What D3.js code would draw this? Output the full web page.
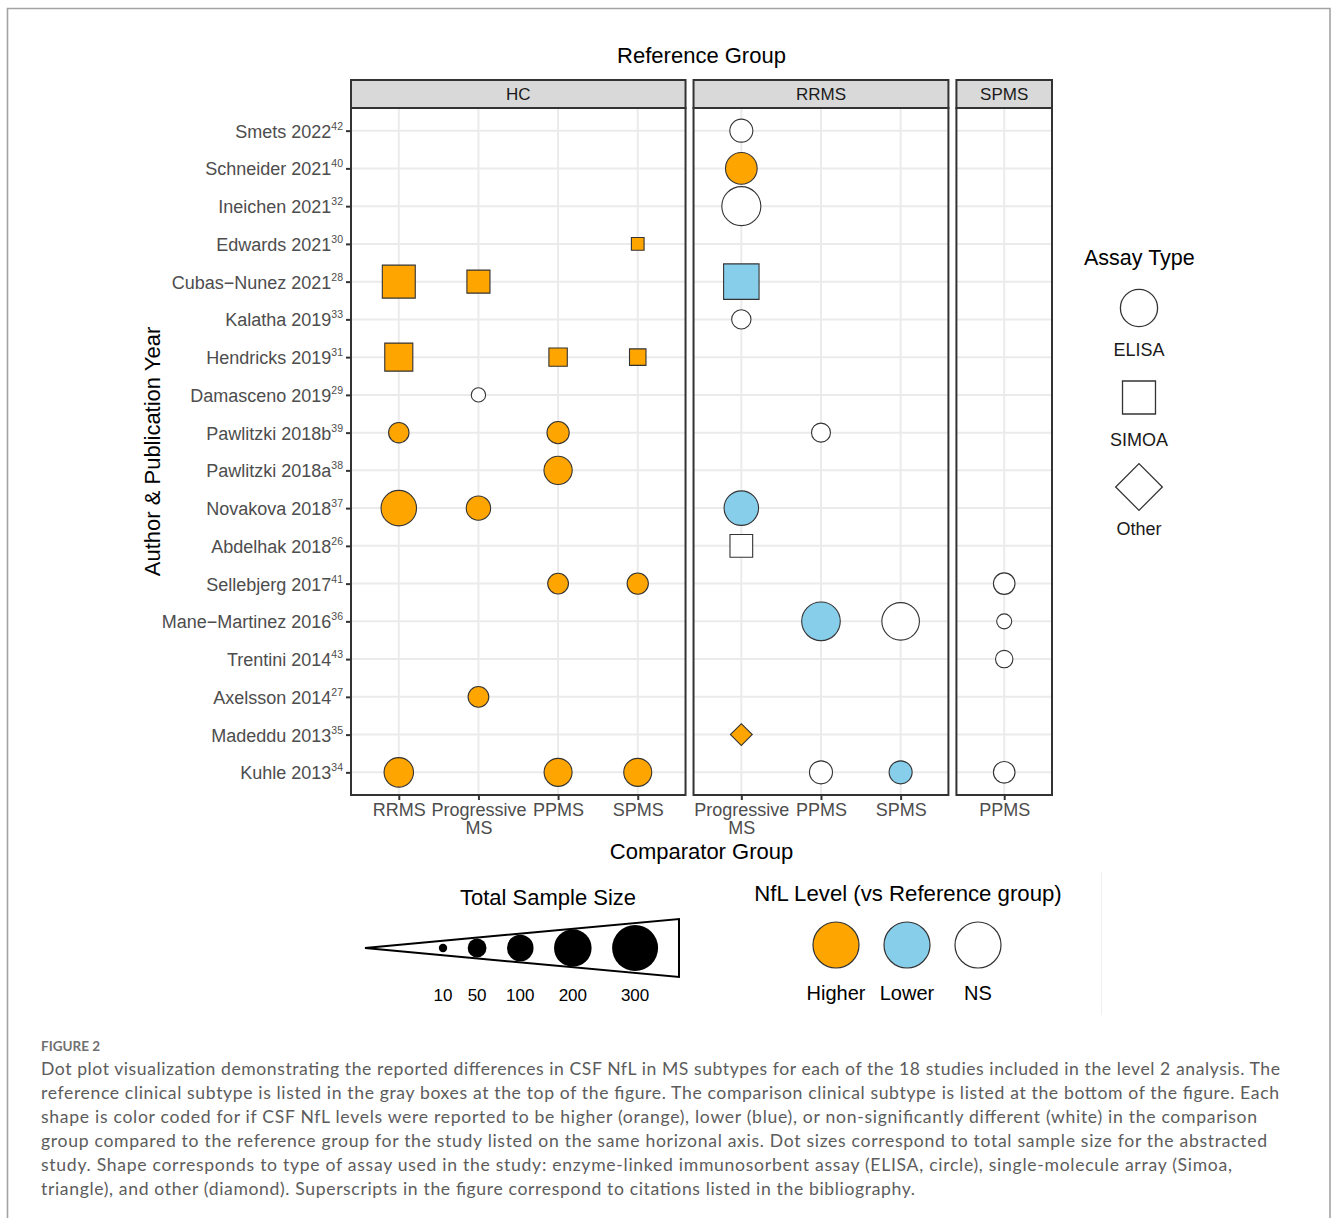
<!DOCTYPE html>
<html>
<head>
<meta charset="utf-8">
<script src="https://cdn.jsdelivr.net/npm/d3@7"></script>
<style>
  html, body { margin: 0; padding: 0; background: #ffffff; }
  svg { display: block; }
</style>
</head>
<body>
<svg id="fig" width="1331" height="1218"></svg>
<script>
// ---- Data -------------------------------------------------------------
const studies = [
  "Smets 2022", "Schneider 2021", "Ineichen 2021", "Edwards 2021",
  "Cubas\u2212Nunez 2021", "Kalatha 2019", "Hendricks 2019", "Damasceno 2019",
  "Pawlitzki 2018b", "Pawlitzki 2018a", "Novakova 2018", "Abdelhak 2018",
  "Sellebjerg 2017", "Mane\u2212Martinez 2016", "Trentini 2014", "Axelsson 2014",
  "Madeddu 2013", "Kuhle 2013"
];
const citations = [
  "42", "40", "32", "30", "28", "33", "31", "29", "39", "38",
  "37", "26", "41", "36", "43", "27", "35", "34"
];

const referenceGroups = ["HC", "RRMS", "SPMS"];
const hcComparators = ["RRMS", "Progressive MS", "PPMS", "SPMS"];
const rrmsComparators = ["Progressive MS", "PPMS", "SPMS"];
const spmsComparators = ["PPMS"];

const assayTypes = ["ELISA", "SIMOA", "Other"];
const nflLevels = ["Higher", "Lower", "NS"];
const sizeLegendValues = [10, 50, 100, 200, 300];

// [study, comparator, assay, NfL level, total sample size]
const hcResults = [
  ["Edwards 2021", "SPMS", "SIMOA", "Higher", 29],
  ["Cubas\u2212Nunez 2021", "RRMS", "SIMOA", "Higher", 196],
  ["Cubas\u2212Nunez 2021", "Progressive MS", "SIMOA", "Higher", 96],
  ["Hendricks 2019", "RRMS", "SIMOA", "Higher", 142],
  ["Hendricks 2019", "PPMS", "SIMOA", "Higher", 61],
  ["Hendricks 2019", "SPMS", "SIMOA", "Higher", 49],
  ["Damasceno 2019", "Progressive MS", "ELISA", "NS", 29],
  ["Pawlitzki 2018b", "RRMS", "ELISA", "Higher", 59],
  ["Pawlitzki 2018b", "PPMS", "ELISA", "Higher", 70],
  ["Pawlitzki 2018a", "PPMS", "ELISA", "Higher", 113],
  ["Novakova 2018", "RRMS", "ELISA", "Higher", 178],
  ["Novakova 2018", "Progressive MS", "ELISA", "Higher", 84],
  ["Sellebjerg 2017", "PPMS", "ELISA", "Higher", 61],
  ["Sellebjerg 2017", "SPMS", "ELISA", "Higher", 64],
  ["Axelsson 2014", "Progressive MS", "ELISA", "Higher", 61],
  ["Kuhle 2013", "RRMS", "ELISA", "Higher", 123],
  ["Kuhle 2013", "PPMS", "ELISA", "Higher", 111],
  ["Kuhle 2013", "SPMS", "ELISA", "Higher", 111]
];
const rrmsResults = [
  ["Smets 2022", "Progressive MS", "ELISA", "NS", 75],
  ["Schneider 2021", "Progressive MS", "ELISA", "Higher", 142],
  ["Ineichen 2021", "Progressive MS", "ELISA", "NS", 216],
  ["Cubas\u2212Nunez 2021", "Progressive MS", "SIMOA", "Lower", 227],
  ["Kalatha 2019", "Progressive MS", "ELISA", "NS", 53],
  ["Pawlitzki 2018b", "PPMS", "ELISA", "NS", 51],
  ["Novakova 2018", "Progressive MS", "ELISA", "Lower", 168],
  ["Abdelhak 2018", "Progressive MS", "SIMOA", "NS", 93],
  ["Mane\u2212Martinez 2016", "PPMS", "ELISA", "Lower", 211],
  ["Mane\u2212Martinez 2016", "SPMS", "ELISA", "NS", 200],
  ["Madeddu 2013", "Progressive MS", "Other", "Higher", 43],
  ["Kuhle 2013", "PPMS", "ELISA", "NS", 75],
  ["Kuhle 2013", "SPMS", "ELISA", "Lower", 75]
];
const spmsResults = [
  ["Sellebjerg 2017", "PPMS", "ELISA", "NS", 66],
  ["Mane\u2212Martinez 2016", "PPMS", "ELISA", "NS", 32],
  ["Trentini 2014", "PPMS", "ELISA", "NS", 43],
  ["Kuhle 2013", "PPMS", "ELISA", "NS", 66]
];

const captionLines = [
  "Dot plot visualization demonstrating the reported differences in CSF NfL in MS subtypes for each of the 18 studies included in the level 2 analysis. The",
  "reference clinical subtype is listed in the gray boxes at the top of the figure. The comparison clinical subtype is listed at the bottom of the figure. Each",
  "shape is color coded for if CSF NfL levels were reported to be higher (orange), lower (blue), or non-significantly different (white) in the comparison",
  "group compared to the reference group for the study listed on the same horizonal axis. Dot sizes correspond to total sample size for the abstracted",
  "study. Shape corresponds to type of assay used in the study: enzyme-linked immunosorbent assay (ELISA, circle), single-molecule array (Simoa,",
  "triangle), and other (diamond). Superscripts in the figure correspond to citations listed in the bibliography."
];

// ---- Styling / layout ---------------------------------------------------
const FONT = "'Liberation Sans', Arial, sans-serif";
const levelColor = d3.scaleOrdinal().domain(nflLevels).range(["#FFA500", "#87CEEB", "#FFFFFF"]);
const assayShape = d3.scaleOrdinal().domain(assayTypes).range(["circle", "square", "diamond"]);
const radius = d3.scaleSqrt().domain([0, 300]).range([0, 23]);

// equal-area symbol paths (circle / square / diamond)
function symbolPath(shape, r) {
  const area = Math.PI * r * r;
  const type = shape === "circle" ? d3.symbolCircle : d3.symbolSquare;
  return d3.symbol().type(type).size(area)();
}
function symbolRotation(shape) { return shape === "diamond" ? 45 : 0; }

const svg = d3.select("#fig");
svg.append("rect").attr("width", 1331).attr("height", 1218).attr("fill", "#fff");

// page frame
svg.append("path")
  .attr("d", "M7.5,1218 V8.5 H1330 V1218")
  .attr("fill", "none").attr("stroke", "#a3a3a3").attr("stroke-width", 1.6);

const plotLeft = 351, plotRight = 1052, panelGap = 8;
const plotTop = 108, plotBottom = 795, stripTop = 80;
const expand = 0.6;

const panels = [
  { ref: referenceGroups[0], comps: hcComparators, rows: hcResults },
  { ref: referenceGroups[1], comps: rrmsComparators, rows: rrmsResults },
  { ref: referenceGroups[2], comps: spmsComparators, rows: spmsResults }
];
const units = panels.map(p => p.comps.length - 1 + 2 * expand);
const unit = (plotRight - plotLeft - panelGap * (panels.length - 1)) / d3.sum(units);
let cursor = plotLeft;
panels.forEach((p, i) => {
  p.x0 = cursor;
  p.x1 = cursor + units[i] * unit;
  cursor = p.x1 + panelGap;
  p.x = d3.scalePoint().domain(p.comps).range([p.x0, p.x1]).padding(expand);
});

const y = d3.scalePoint().domain(studies).range([plotTop, plotBottom]).padding(expand);

// ---- Panels -------------------------------------------------------------
panels.forEach(p => {
  const g = svg.append("g");
  g.append("rect").attr("x", p.x0).attr("y", plotTop)
    .attr("width", p.x1 - p.x0).attr("height", plotBottom - plotTop).attr("fill", "#fff");

  // grid
  g.selectAll(".gy").data(studies).join("line")
    .attr("x1", p.x0).attr("x2", p.x1)
    .attr("y1", d => y(d)).attr("y2", d => y(d))
    .attr("stroke", "#ebebeb").attr("stroke-width", 2);
  g.selectAll(".gx").data(p.comps).join("line")
    .attr("x1", d => p.x(d)).attr("x2", d => p.x(d))
    .attr("y1", plotTop).attr("y2", plotBottom)
    .attr("stroke", "#ebebeb").attr("stroke-width", 2);

  // marks
  g.selectAll(".mark").data(p.rows).join("path")
    .attr("d", d => symbolPath(assayShape(d[2]), radius(d[4])))
    .attr("transform", d => `translate(${p.x(d[1])},${y(d[0])}) rotate(${symbolRotation(assayShape(d[2]))})`)
    .attr("fill", d => levelColor(d[3]))
    .attr("stroke", "#333").attr("stroke-width", 1.1);

  // border
  g.append("rect").attr("x", p.x0).attr("y", plotTop)
    .attr("width", p.x1 - p.x0).attr("height", plotBottom - plotTop)
    .attr("fill", "none").attr("stroke", "#333").attr("stroke-width", 2);

  // strip
  g.append("rect").attr("x", p.x0).attr("y", stripTop)
    .attr("width", p.x1 - p.x0).attr("height", plotTop - stripTop)
    .attr("fill", "#d9d9d9").attr("stroke", "#333").attr("stroke-width", 2);
  g.append("text").attr("x", (p.x0 + p.x1) / 2).attr("y", (stripTop + plotTop) / 2 + 6)
    .attr("text-anchor", "middle").attr("font-family", FONT).attr("font-size", 17)
    .attr("fill", "#1a1a1a").text(p.ref);

  // x axis
  const ax = svg.append("g").attr("transform", `translate(0,${plotBottom})`)
    .call(d3.axisBottom(p.x).tickSize(5).tickPadding(3));
  ax.select(".domain").remove();
  ax.selectAll(".tick line").attr("stroke", "#333").attr("stroke-width", 2);
  ax.selectAll(".tick text").each(function (d) {
    const t = d3.select(this).text("")
      .attr("font-family", FONT).attr("font-size", 18).attr("fill", "#4d4d4d");
    const parts = d === "Progressive MS" ? ["Progressive", "MS"] : [d];
    parts.forEach((s, i) => t.append("tspan").attr("x", 0)
      .attr("dy", i === 0 ? "0.71em" : "1.0em").text(s));
  });
});

// ---- Y axis -------------------------------------------------------------
const ay = svg.append("g").attr("transform", `translate(${plotLeft},0)`)
  .call(d3.axisLeft(y).tickSize(5).tickPadding(3));
ay.select(".domain").remove();
ay.selectAll(".tick line").attr("stroke", "#333").attr("stroke-width", 2);
ay.selectAll(".tick text").each(function (d) {
  const t = d3.select(this).text("").attr("dy", null).attr("y", 6.5)
    .attr("font-family", FONT).attr("font-size", 18).attr("fill", "#4d4d4d");
  t.append("tspan").text(d);
  t.append("tspan").attr("font-size", 10.5).attr("dy", -8)
    .text(citations[studies.indexOf(d)]);
});

// ---- Titles -------------------------------------------------------------
svg.append("text").attr("x", (plotLeft + plotRight) / 2).attr("y", 63)
  .attr("text-anchor", "middle").attr("font-family", FONT).attr("font-size", 22)
  .attr("fill", "#000").text("Reference Group");
svg.append("text").attr("x", (plotLeft + plotRight) / 2).attr("y", 859)
  .attr("text-anchor", "middle").attr("font-family", FONT).attr("font-size", 22)
  .attr("fill", "#000").text("Comparator Group");
svg.append("text")
  .attr("transform", `translate(160,${(plotTop + plotBottom) / 2}) rotate(-90)`)
  .attr("text-anchor", "middle").attr("font-family", FONT).attr("font-size", 22)
  .attr("fill", "#000").text("Author & Publication Year");

// ---- Assay type legend ----------------------------------------------------
const lg = svg.append("g");
lg.append("text").attr("x", 1084).attr("y", 265).attr("font-family", FONT)
  .attr("font-size", 21.5).attr("fill", "#000").text("Assay Type");
const legendY = d3.scalePoint().domain(assayTypes).range([308, 487]);
assayTypes.forEach(a => {
  lg.append("path").attr("d", symbolPath(assayShape(a), 18.6))
    .attr("transform", `translate(1139,${legendY(a)}) rotate(${symbolRotation(assayShape(a))})`)
    .attr("fill", "#fff").attr("stroke", "#333").attr("stroke-width", 1.3);
  lg.append("text").attr("x", 1139).attr("y", legendY(a) + 48)
    .attr("text-anchor", "middle").attr("font-family", FONT).attr("font-size", 18)
    .attr("fill", "#1a1a1a").text(a);
});

// ---- Total sample size legend --------------------------------------------
const sg = svg.append("g");
sg.append("text").attr("x", 548).attr("y", 905).attr("text-anchor", "middle")
  .attr("font-family", FONT).attr("font-size", 22).attr("fill", "#000").text("Total Sample Size");
sg.append("path").attr("d", "M365,948 L679,919 L679,977 Z")
  .attr("fill", "#fff").attr("stroke", "#000").attr("stroke-width", 2);
const sizeCx = [];
sizeLegendValues.forEach((v, i) => {
  const r = radius(v);
  sizeCx.push(i === 0 ? 443 : sizeCx[i - 1] + radius(sizeLegendValues[i - 1]) + 20.5 + r);
});
sg.selectAll(".sz").data(sizeLegendValues).join("circle")
  .attr("cx", (d, i) => sizeCx[i]).attr("cy", 948).attr("r", d => radius(d)).attr("fill", "#000");
sg.selectAll(".szt").data(sizeLegendValues).join("text")
  .attr("x", (d, i) => sizeCx[i]).attr("y", 1001).attr("text-anchor", "middle")
  .attr("font-family", FONT).attr("font-size", 17).attr("fill", "#000").text(d => d);

// ---- NfL level legend -----------------------------------------------------
const ng = svg.append("g");
ng.append("text").attr("x", 908).attr("y", 901).attr("text-anchor", "middle")
  .attr("font-family", FONT).attr("font-size", 22.2).attr("fill", "#000")
  .text("NfL Level (vs Reference group)");
const levelX = d3.scalePoint().domain(nflLevels).range([836, 978]);
ng.selectAll(".lv").data(nflLevels).join("circle")
  .attr("cx", d => levelX(d)).attr("cy", 945).attr("r", 23)
  .attr("fill", d => levelColor(d)).attr("stroke", "#333").attr("stroke-width", 1.2);
ng.selectAll(".lvt").data(nflLevels).join("text")
  .attr("x", d => levelX(d)).attr("y", 1000).attr("text-anchor", "middle")
  .attr("font-family", FONT).attr("font-size", 20).attr("fill", "#000").text(d => d);
svg.append("line").attr("x1", 1101.5).attr("x2", 1101.5).attr("y1", 872).attr("y2", 1015)
  .attr("stroke", "#f0f0f0").attr("stroke-width", 1);

// ---- Caption ------------------------------------------------------------
const CAP_FONT = "Lato, 'Open Sans', sans-serif";
svg.append("text").attr("x", 41).attr("y", 1051)
  .attr("font-family", CAP_FONT).attr("font-size", 13.5).attr("font-weight", 700)
  .attr("fill", "#707070").text("FIGURE 2");
const captionWidths = [1239, 1238, 1216, 1226, 1191, 874];
svg.selectAll(".cap").data(captionLines).join("text")
  .attr("x", 41).attr("y", (d, i) => 1075 + i * 24)
  .attr("font-family", CAP_FONT).attr("font-size", 17.6).attr("fill", "#5c5c5c")
  .attr("textLength", (d, i) => captionWidths[i]).attr("lengthAdjust", "spacing")
  .text(d => d);
</script>
</body>
</html>
